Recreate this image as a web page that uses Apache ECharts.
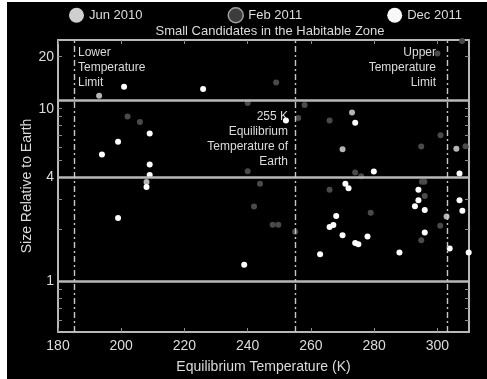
<!DOCTYPE html>
<html>
<head>
<meta charset="utf-8">
<script src="https://cdn.jsdelivr.net/npm/echarts@6/dist/echarts.min.js"></script>
<style>
html,body{margin:0;padding:0;background:#fff;width:487px;height:379px;overflow:hidden;}
#c{position:absolute;left:7px;top:2px;width:480px;height:377px;background:#000;}
</style>
</head>
<body>
<div id="c"></div>
<script>
// ---- data ----
const seriesNames = ['Jun 2010', 'Feb 2011', 'Dec 2011'];
const junTemp = [193.0, 208.0, 273.0, 270.0, 306.0, 302.9];
const junSize = [11.9, 3.76, 9.52, 5.83, 5.86, 2.38];
const febTemp = [249.0, 240.0, 202.0, 205.9, 240.0, 243.9, 242.0, 247.9, 249.7, 307.8, 300.0, 258.0, 256.0, 265.9, 301.0, 294.9, 308.9, 274.0, 275.9, 265.9, 295.1, 295.9, 296.0, 278.9, 300.9, 255.0, 294.9];
const febSize = [14.2, 10.8, 9.03, 8.38, 4.35, 3.68, 2.72, 2.13, 2.13, 24.7, 20.9, 10.5, 8.84, 8.56, 7.02, 6.04, 6.06, 4.28, 4.07, 3.40, 3.78, 3.78, 3.12, 2.50, 2.10, 1.94, 1.73];
const decTemp = [200.9, 225.9, 209.0, 199.0, 193.9, 209.0, 209.0, 208.0, 199.0, 238.9, 252.1, 274.0, 279.9, 307.0, 270.9, 271.9, 294.0, 294.0, 292.9, 296.0, 307.0, 307.9, 268.0, 265.9, 267.1, 270.0, 277.9, 296.0, 274.0, 275.0, 262.9, 288.0, 303.9, 309.9];
const decSize = [13.4, 12.99, 7.2, 6.45, 5.43, 4.76, 4.13, 3.52, 2.33, 1.25, 8.56, 8.30, 4.33, 4.22, 3.68, 3.46, 3.40, 2.95, 2.73, 2.59, 2.95, 2.57, 2.39, 2.07, 2.12, 1.85, 1.82, 1.92, 1.67, 1.64, 1.44, 1.47, 1.55, 1.47];
const sizeLines = [1, 4, 11.2];          // horizontal reference lines
const tempLines = [185, 255, 303];       // vertical reference lines
const xTicks = [180, 200, 220, 240, 260, 280, 300];
const yLabelValues = [1, 4, 10, 20];
const yTickValues = [0.6, 0.7, 0.8, 0.9, 1, 2, 3, 4, 5, 6, 7, 8, 9, 10, 20];
const titleText = 'Small Candidates in the Habitable Zone';
const xName = 'Equilibrium Temperature (K)';
const yName = 'Size Relative to Earth';

const zip = (a, b) => a.map((v, i) => [v, b[i]]);
const FONT = 'Liberation Sans, Arial, Helvetica, sans-serif';
const TXT = '#dcdcdc';
const FRAME = '#b8b8b8';

const chart = echarts.init(document.getElementById('c'), null, {renderer: 'canvas'});

const baseX = {
  type: 'value', min: 180, max: 310, interval: 20,
  axisLine: {show: true, lineStyle: {color: FRAME, width: 2}},
  axisTick: {show: true, inside: true, length: 4, lineStyle: {color: '#8a8a8a'}, customValues: xTicks},
  splitLine: {show: false}
};
const baseY = {
  type: 'log', logBase: 10, min: 0.51, max: 25,
  axisLine: {show: true, lineStyle: {color: FRAME, width: 2}},
  axisTick: {show: true, inside: true, length: 4, lineStyle: {color: '#8a8a8a'}, customValues: yTickValues},
  splitLine: {show: false},
  minorTick: {show: false}
};

const option = {
  backgroundColor: '#000',
  animation: false,
  textStyle: {fontFamily: FONT},
  grid: {left: 51, right: 18, top: 38, bottom: 46, show: false},
  legend: {
    left: 62, top: 5, padding: 0, itemGap: 85, itemWidth: 15, itemHeight: 15, icon: 'circle',
    textStyle: {color: TXT, fontSize: 13, fontFamily: FONT},
    data: [
      {name: seriesNames[0], itemStyle: {color: '#cfcfcf'}},
      {name: seriesNames[1], itemStyle: {color: '#3c3c3c', borderColor: '#a0a0a0', borderWidth: 1.5}},
      {name: seriesNames[2], itemStyle: {color: '#f8f8f8'}}
    ]
  },
  xAxis: [
    Object.assign({}, baseX, {
      position: 'bottom',
      axisLabel: {show: true, color: TXT, fontSize: 14, margin: 7, customValues: xTicks},
      name: xName, nameLocation: 'middle', nameGap: 28,
      nameTextStyle: {color: TXT, fontSize: 14, fontFamily: FONT}
    }),
    Object.assign({}, baseX, {position: 'top', axisLabel: {show: false}})
  ],
  yAxis: [
    Object.assign({}, baseY, {
      position: 'left',
      axisLabel: {show: true, color: TXT, fontSize: 14, margin: 4, customValues: yLabelValues},
      name: yName, nameLocation: 'middle', nameGap: 24, nameRotate: 90, nameMoveOverlap: false,
      nameTextStyle: {color: TXT, fontSize: 14, fontFamily: FONT}
    }),
    Object.assign({}, baseY, {position: 'right', axisLabel: {show: false}})
  ],
  series: [
    {
      name: 'refs', type: 'scatter', data: [], silent: true,
      markLine: {
        silent: true, symbol: ['none', 'none'], label: {show: false}, animation: false,
        data: [
          ...sizeLines.map(v => ({yAxis: v, lineStyle: {color: FRAME, width: 2.5, type: 'solid'}})),
          ...tempLines.map(v => ({xAxis: v, lineStyle: {color: '#c8c8c8', width: 1.4, type: [6, 3, 2, 3]}}))
        ]
      }
    },
    {name: seriesNames[0], type: 'scatter', symbolSize: 6, data: zip(junTemp, junSize),
     itemStyle: {color: '#b4b4b4', opacity: 1}},
    {name: seriesNames[1], type: 'scatter', symbolSize: 6, data: zip(febTemp, febSize),
     itemStyle: {color: '#4a4a4a', opacity: 1}},
    {name: seriesNames[2], type: 'scatter', symbolSize: 6, data: zip(decTemp, decSize),
     itemStyle: {color: '#ffffff', opacity: 1}}
  ],
  graphic: [
    {type: 'text', x: 263, y: 23, style: {text: titleText, fill: TXT, font: '13px ' + FONT, textAlign: 'center', textVerticalAlign: 'top'}},
    {type: 'text', x: 71, y: 43, style: {text: 'Lower\nTemperature\nLimit', fill: TXT, font: '12px ' + FONT, lineHeight: 15, textAlign: 'left', textVerticalAlign: 'top'}},
    {type: 'text', x: 429, y: 43, style: {text: 'Upper\nTemperature\nLimit', fill: TXT, font: '12px ' + FONT, lineHeight: 15, textAlign: 'right', textVerticalAlign: 'top'}},
    {type: 'text', x: 281, y: 107, style: {text: '255 K\nEquilibrium\nTemperature of\nEarth', fill: TXT, font: '12px ' + FONT, lineHeight: 15, textAlign: 'right', textVerticalAlign: 'top'}}
  ]
};
chart.setOption(option);
</script>
</body>
</html>
